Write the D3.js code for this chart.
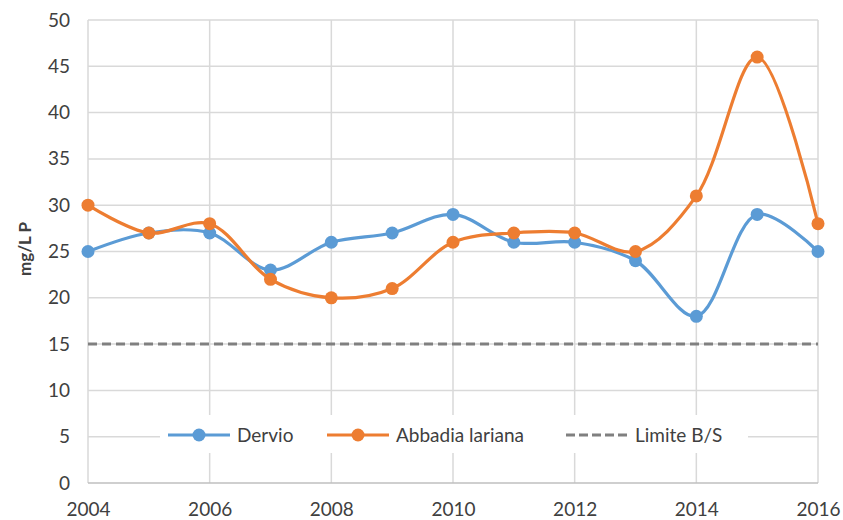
<!DOCTYPE html>
<html><head><meta charset="utf-8">
<script src="https://cdn.jsdelivr.net/npm/d3@7"></script>
<style>body{margin:0;background:#fff}svg{display:block}text{font-family:Lato,"Open Sans",sans-serif;fill:#404040}</style>
</head><body><svg id="c" width="843" height="520"></svg>
<script>
const years = [2004,2005,2006,2007,2008,2009,2010,2011,2012,2013,2014,2015,2016];
const dervio = [25,27,27,23,26,27,29,26,26,24,18,29,25];
const abbadia = [30,27,28,22,20,21,26,27,27,25,31,46,28];
const limite = 15;
const yTicks = [0,5,10,15,20,25,30,35,40,45,50];
const xTicks = [2004,2006,2008,2010,2012,2014,2016];
const seriesNames = ["Dervio","Abbadia lariana","Limite B/S"];
const colors = ["#5B9BD5","#ED7D31","#808080"];

const svg = d3.select("#c");
const x = d3.scaleLinear().domain([2004,2016]).range([88,818]);
const y = d3.scaleLinear().domain([0,50]).range([483,20]);

// grid
svg.append("g").selectAll("line").data(yTicks.filter(d=>d>0)).join("line")
  .attr("x1",x(2004)).attr("x2",x(2016)).attr("y1",d=>y(d)).attr("y2",d=>y(d))
  .attr("stroke","#d9d9d9").attr("stroke-width",1.5);
svg.append("g").selectAll("line").data(xTicks).join("line")
  .attr("x1",d=>x(d)).attr("x2",d=>x(d)).attr("y1",y(0)).attr("y2",y(50))
  .attr("stroke","#d9d9d9").attr("stroke-width",1.5);
svg.append("line").attr("x1",x(2004)).attr("x2",x(2016)).attr("y1",y(0)).attr("y2",y(0))
  .attr("stroke","#bfbfbf").attr("stroke-width",1.5);

// axes labels
const yAxis = d3.axisLeft(y).tickValues(yTicks).tickSize(0).tickPadding(18);
const ga = svg.append("g").attr("transform",`translate(${x(2004)},0)`).call(yAxis);
ga.select(".domain").remove();
ga.selectAll("text").style("font-size","19px").attr("fill","#404040");
const xAxis = d3.axisBottom(x).tickValues(xTicks).tickFormat(d3.format("d")).tickSize(0).tickPadding(20);
const gx = svg.append("g").attr("transform",`translate(0,${y(0)})`).call(xAxis);
gx.select(".domain").remove();
gx.selectAll("text").style("font-size","19px").attr("fill","#404040");

svg.append("text").attr("transform",`translate(31,249) rotate(-90)`).attr("text-anchor","middle")
  .style("font-size","17px").style("font-weight","bold").attr("fill","#262626").text("mg/L P");

// limit line
svg.append("line").attr("x1",x(2004)).attr("x2",x(2016)).attr("y1",y(limite)).attr("y2",y(limite))
  .attr("stroke",colors[2]).attr("stroke-width",3).attr("stroke-dasharray","9,5");

const line = d3.line().x((d,i)=>x(years[i])).y(d=>y(d)).curve(d3.curveCatmullRom.alpha(0.5));
[dervio,abbadia].forEach((s,k)=>{
  svg.append("path").attr("d",line(s)).attr("fill","none").attr("stroke",colors[k]).attr("stroke-width",3.2);
  svg.append("g").selectAll("circle").data(s).join("circle")
    .attr("cx",(d,i)=>x(years[i])).attr("cy",d=>y(d)).attr("r",6.5).attr("fill",colors[k]);
});

// legend
const lg = svg.append("g");
lg.append("rect").attr("x",160).attr("y",415).attr("width",588).attr("height",38).attr("fill","#fff");
const items = [{x0:168,tx:237},{x0:327,tx:396},{x0:566,tx:635}];
items.forEach((it,k)=>{
  const ly = 435;
  const l = lg.append("line").attr("x1",it.x0).attr("x2",it.x0+62).attr("y1",ly).attr("y2",ly)
    .attr("stroke",colors[k]).attr("stroke-width",3);
  if(k===2) l.attr("stroke-dasharray","9,4");
  else lg.append("circle").attr("cx",it.x0+31).attr("cy",ly).attr("r",6.5).attr("fill",colors[k]);
  lg.append("text").attr("x",it.tx).attr("y",ly).attr("dy","0.35em").style("font-size","19px").text(seriesNames[k]);
});
</script></body></html>
